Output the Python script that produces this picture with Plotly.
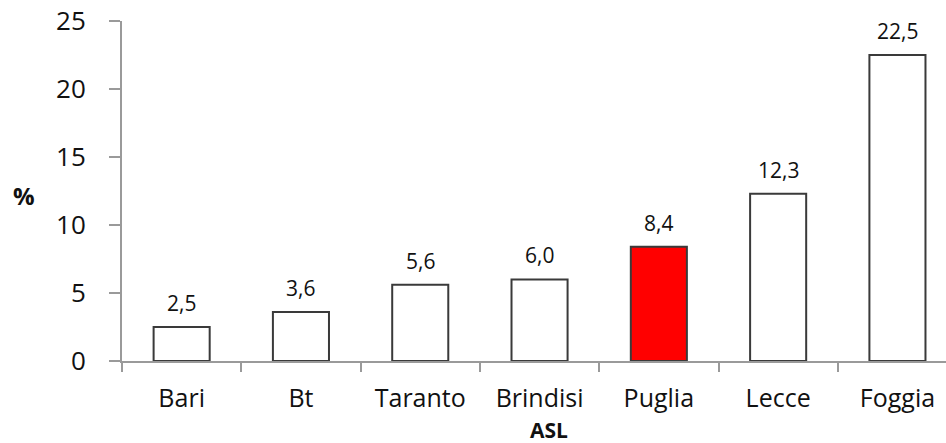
import plotly.graph_objects as go

# ASL categories and percentages
categories = ["Bari", "Bt", "Taranto", "Brindisi", "Puglia", "Lecce", "Foggia"]
values = [2.5, 3.6, 5.6, 6.0, 8.4, 12.3, 22.5]
highlight = "Puglia"
y_ticks = [0, 5, 10, 15, 20, 25]

FONT = "Open Sans"
AXIS_GREY = "#9a9a9a"

fill_colors = ["#ff0000" if c == highlight else "#ffffff" for c in categories]

fig = go.Figure()
fig.add_trace(go.Bar(
    x=categories,
    y=values,
    width=0.47,
    marker=dict(color=fill_colors, line=dict(color="#3a3a3a", width=2)),
    hoverinfo="x+y",
))

# value labels above each bar (Italian decimal comma)
for c, v in zip(categories, values):
    fig.add_annotation(
        x=c, y=v, text=f"{v:.1f}".replace(".", ","),
        showarrow=False, yanchor="bottom", yshift=8,
        font=dict(family=FONT, size=21, color="#111111"),
    )

# axis titles
fig.add_annotation(
    xref="paper", yref="paper", x=-0.119, y=0.488, text="<b>%</b>",
    xanchor="center", yanchor="middle",
    showarrow=False, font=dict(family=FONT, size=24, color="#111111"),
)
fig.add_annotation(
    xref="paper", yref="paper", x=0.518, y=-0.204, text="<b>ASL</b>",
    xanchor="center", yanchor="middle",
    showarrow=False, font=dict(family=FONT, size=21, color="#111111"),
)

fig.update_layout(
    width=946, height=443,
    margin=dict(l=122, r=0, t=21, b=82),
    plot_bgcolor="white", paper_bgcolor="white",
    showlegend=False,
    font=dict(family=FONT, color="#111111"),
    xaxis=dict(
        range=[-0.5, 6.407],
        showline=True, linecolor=AXIS_GREY, linewidth=2,
        ticks="outside", tickson="boundaries", ticklen=9, tickcolor=AXIS_GREY, tickwidth=2,
        showgrid=False, zeroline=False,
        tickfont=dict(family=FONT, size=25, color="#111111"),
        ticklabelstandoff=14,
    ),
    yaxis=dict(
        range=[0, 25], tickvals=y_ticks,
        showline=True, linecolor=AXIS_GREY, linewidth=2,
        ticks="outside", ticklen=11, tickcolor=AXIS_GREY, tickwidth=2,
        showgrid=False, zeroline=False,
        tickfont=dict(family=FONT, size=26, color="#111111"),
        ticklabelstandoff=18,
    ),
)

fig.write_html("out.html")
